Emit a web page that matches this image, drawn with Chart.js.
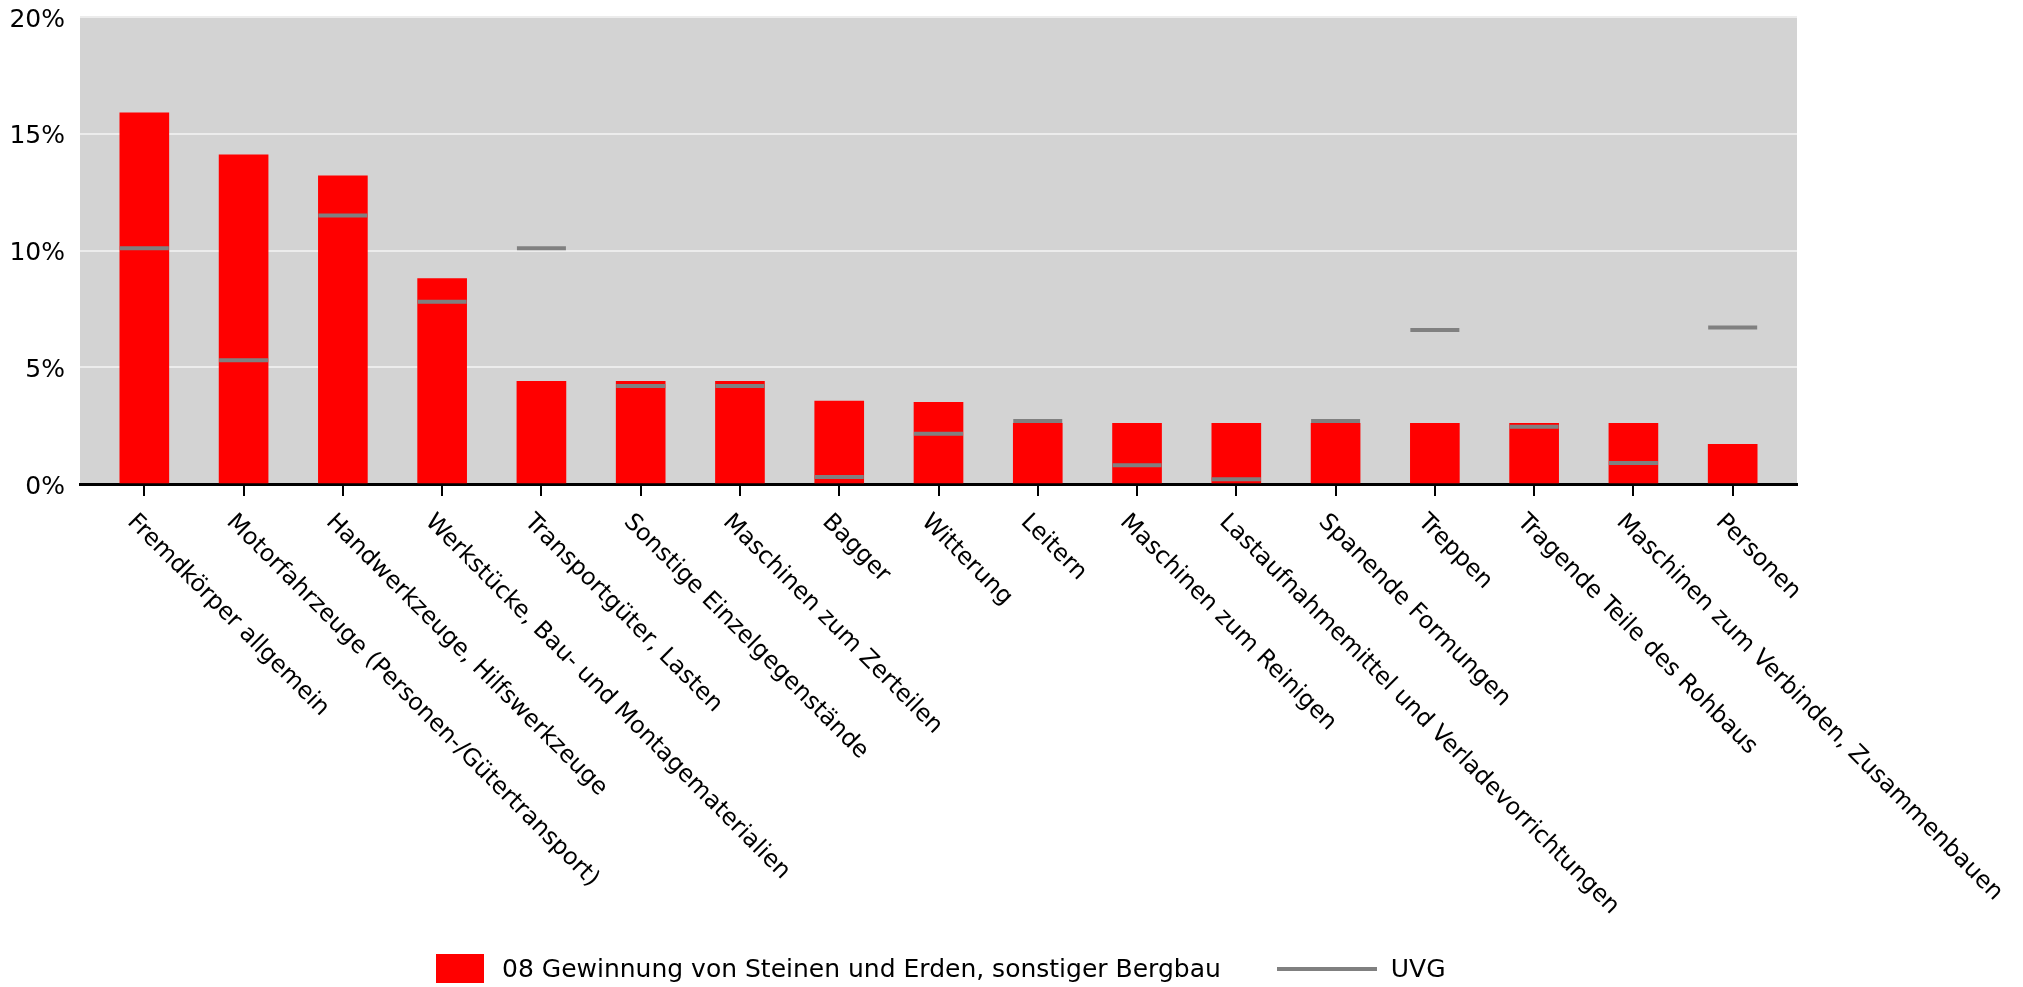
<!DOCTYPE html>
<html>
<head>
<meta charset="utf-8">
<script src="https://cdn.jsdelivr.net/npm/chart.js@4"></script>
<style>
  html, body { margin: 0; padding: 0; background: #fff; }
  #wrap { position: relative; width: 2023px; height: 987px; }
  #legend {
    position: absolute; left: 436px; top: 954px; height: 29px;
    display: flex; align-items: center;
    font-family: "DejaVu Sans", Verdana, sans-serif; font-size: 25px; color: #000;
  }
  .box { width: 48px; height: 29px; background: #ff0000; margin-right: 18px; }
  .line { width: 100px; height: 4px; background: #808080; margin-left: 56px; margin-right: 14px; }
</style>
</head>
<body>
<div id="wrap">
  <canvas id="chart"></canvas>
  <div id="legend"></div>
</div>
<script>
const categories = [
  "Fremdkörper allgemein",
  "Motorfahrzeuge (Personen-/Gütertransport)",
  "Handwerkzeuge, Hilfswerkzeuge",
  "Werkstücke, Bau- und Montagematerialien",
  "Transportgüter, Lasten",
  "Sonstige Einzelgegenstände",
  "Maschinen zum Zerteilen",
  "Bagger",
  "Witterung",
  "Leitern",
  "Maschinen zum Reinigen",
  "Lastaufnahmemittel und Verladevorrichtungen",
  "Spanende Formungen",
  "Treppen",
  "Tragende Teile des Rohbaus",
  "Maschinen zum Verbinden, Zusammenbauen",
  "Personen"
];
const branchName = "08 Gewinnung von Steinen und Erden, sonstiger Bergbau";
const branchValues = [15.9, 14.1, 13.2, 8.8, 4.4, 4.4, 4.4, 3.55, 3.5, 2.6, 2.6, 2.6, 2.6, 2.6, 2.6, 2.6, 1.7];
const uvgName = "UVG";
const uvgValues = [10.1, 5.3, 11.5, 7.8, 10.1, 4.2, 4.2, 0.3, 2.15, 2.7, 0.8, 0.2, 2.7, 6.6, 2.45, 0.9, 6.7];
const yTicks = [0, 5, 10, 15, 20];

const font = '"DejaVu Sans", Verdana, sans-serif';

document.getElementById("legend").innerHTML =
  `<span class="box"></span><span>${branchName}</span><span class="line"></span><span>${uvgName}</span>`;

// grey plot background
const plotBg = {
  id: "plotBg",
  beforeDraw(chart) {
    const { ctx, chartArea: a } = chart;
    ctx.save();
    ctx.fillStyle = "#d3d3d3";
    ctx.fillRect(a.left, a.top, a.right - a.left, a.bottom - a.top);
    ctx.restore();
  }
};

// category labels, rotated 45° clockwise, starting at the tick
const slantLabels = {
  id: "slantLabels",
  afterDraw(chart) {
    const { ctx } = chart;
    const x = chart.scales.x;
    ctx.save();
    ctx.font = "23.7px " + font;
    ctx.fillStyle = "#000";
    ctx.textAlign = "left";
    ctx.textBaseline = "top";
    categories.forEach((label, i) => {
      ctx.save();
      ctx.translate(x.getPixelForValue(i) - 5, chart.chartArea.bottom + 26);
      ctx.rotate(Math.PI / 4);
      ctx.fillText(label, 0, 0);
      ctx.restore();
    });
    ctx.restore();
  }
};

new Chart(document.getElementById("chart"), {
  data: {
    datasets: [
      {
        type: "bar",
        label: branchName,
        data: branchValues.map((v, i) => ({ x: i, y: v })),
        backgroundColor: "#ff0000",
        borderWidth: 0,
        barThickness: 49,
        order: 2
      },
      {
        type: "line",
        label: uvgName,
        data: uvgValues.map((v, i) => ({ x: i, y: v })),
        showLine: false,
        pointStyle: "line",
        pointRadius: 24.5,
        pointHoverRadius: 24.5,
        pointBorderWidth: 4,
        pointBorderColor: "#808080",
        borderColor: "#808080",
        order: 1
      }
    ]
  },
  options: {
    responsive: true,
    maintainAspectRatio: false,
    devicePixelRatio: 1,
    animation: false,
    events: [],
    layout: { autoPadding: false, padding: { top: 17, right: 226, bottom: 0, left: 0 } },
    plugins: { legend: { display: false }, tooltip: { enabled: false } },
    scales: {
      x: {
        type: "linear",
        offset: false,
        min: -0.648,
        max: 16.648,
        afterBuildTicks: s => { s.ticks = categories.map((c, i) => ({ value: i })); },
        afterFit: s => { s.height = 503; s.paddingLeft = 0; s.paddingRight = 0; },
        ticks: { display: false },
        grid: { offset: false, drawOnChartArea: false, drawTicks: true, tickLength: 12, color: "#000", lineWidth: 2 },
        border: { display: true, color: "#000", width: 3 }
      },
      y: {
        min: 0,
        max: 20,
        afterBuildTicks: s => { s.ticks = yTicks.map(v => ({ value: v })); },
        afterFit: s => { s.width = 80; s.paddingTop = 0; s.paddingBottom = 0; },
        ticks: {
          callback: v => v + "%",
          padding: 15,
          labelOffset: 3,
          color: "#000",
          font: { family: font, size: 25 }
        },
        grid: { color: "#ececec", lineWidth: 2, drawTicks: false },
        border: { display: false }
      }
    }
  },
  plugins: [plotBg, slantLabels]
});
</script>
</body>
</html>
